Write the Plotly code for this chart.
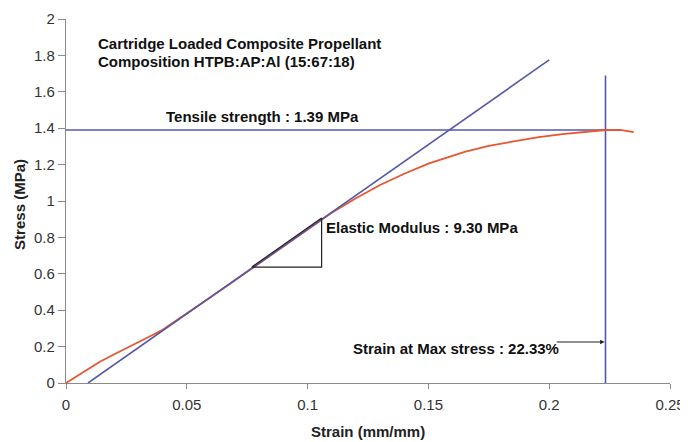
import plotly.graph_objects as go

# Measured stress-strain curve (orange)
strain = [0, 0.005, 0.01, 0.014, 0.02, 0.025, 0.03, 0.035, 0.04, 0.05, 0.06, 0.07, 0.08,
          0.09, 0.1, 0.11, 0.12, 0.13, 0.14, 0.15, 0.157, 0.165, 0.175, 0.185, 0.195,
          0.2055, 0.215, 0.2233, 0.23, 0.235]
stress = [0, 0.043, 0.083, 0.117, 0.158, 0.19, 0.225, 0.258, 0.292, 0.38, 0.472, 0.565, 0.658,
          0.75, 0.845, 0.935, 1.015, 1.088, 1.15, 1.205, 1.236, 1.27, 1.303, 1.325, 1.35,
          1.368, 1.38, 1.39, 1.389, 1.378]

# Elastic modulus tangent line (blue)
tangent_x = [0.0091, 0.2]
tangent_y = [0.0, 1.775]

# Tensile strength line
tensile_x = [0, 0.2296]
tensile_y = [1.39, 1.39]

# Strain at max stress line
maxstrain_x = [0.2233, 0.2233]
maxstrain_y = [0, 1.69]

# Modulus triangle
tri_x = [0.0769, 0.1058, 0.1058, 0.0769]
tri_y = [0.637, 0.907, 0.637, 0.637]

x_ticks = [0, 0.05, 0.1, 0.15, 0.2, 0.25]
x_ticktext = ["0", "0.05", "0.1", "0.15", "0.2", "0.25"]
y_ticks = [0, 0.2, 0.4, 0.6, 0.8, 1, 1.2, 1.4, 1.6, 1.8, 2]
y_ticktext = ["0", "0.2", "0.4", "0.6", "0.8", "1", "1.2", "1.4", "1.6", "1.8", "2"]

BLUE = "#5558a8"
ORANGE = "#e8552e"
FONT = "Liberation Sans, Arial, sans-serif"

fig = go.Figure()
fig.add_trace(go.Scatter(x=tensile_x, y=tensile_y, mode="lines",
                         line=dict(color=BLUE, width=1.6), hoverinfo="skip"))
fig.add_trace(go.Scatter(x=maxstrain_x, y=maxstrain_y, mode="lines",
                         line=dict(color=BLUE, width=1.6), hoverinfo="skip"))
fig.add_trace(go.Scatter(x=strain, y=stress, mode="lines",
                         line=dict(color=ORANGE, width=1.8), hoverinfo="skip"))
fig.add_trace(go.Scatter(x=tangent_x, y=tangent_y, mode="lines",
                         line=dict(color=BLUE, width=1.6), hoverinfo="skip"))
fig.add_trace(go.Scatter(x=tri_x, y=tri_y, mode="lines",
                         line=dict(color="#222222", width=1.2), hoverinfo="skip"))

ann_font = dict(family=FONT, size=15, color="#111111")
annotations = [
    dict(x=0.0125, y=1.868, text="<b>Cartridge Loaded Composite Propellant</b>", showarrow=False,
         xanchor="left", yanchor="middle", font=ann_font),
    dict(x=0.0125, y=1.764, text="<b>Composition HTPB:AP:Al (15:67:18)</b>", showarrow=False,
         xanchor="left", yanchor="middle", font=ann_font),
    dict(x=0.0405, y=1.462, text="<b>Tensile strength : 1.39 MPa</b>", showarrow=False,
         xanchor="left", yanchor="middle", font=ann_font),
    dict(x=0.1066, y=0.852, text="<b>Elastic Modulus : 9.30 MPa</b>", showarrow=False,
         xanchor="left", yanchor="middle", font=ann_font),
    dict(x=0.1178, y=0.192, text="<b>Strain at Max stress : 22.33%</b>", showarrow=False,
         xanchor="left", yanchor="middle", font=ann_font),
    dict(x=0.2229, y=0.225, ax=0.2025, ay=0.225, axref="x", ayref="y", xref="x", yref="y",
         text="", showarrow=True, arrowhead=2, arrowsize=0.8, arrowwidth=1.1, arrowcolor="#222222"),
    dict(x=0.5, y=-0.1346, xref="paper", yref="paper", text="<b>Strain (mm/mm)</b>", showarrow=False,
         xanchor="center", yanchor="middle", font=dict(family=FONT, size=15, color="#222222")),
    dict(x=-0.0762, y=0.492, xref="paper", yref="paper", text="<b>Stress (MPa)</b>", showarrow=False,
         textangle=-90, xanchor="center", yanchor="middle",
         font=dict(family=FONT, size=15, color="#222222")),
]

axis_common = dict(showgrid=False, zeroline=False, showline=True, linecolor="#8a8a8a", linewidth=1.2,
                   ticks="outside", tickcolor="#8a8a8a", tickwidth=1.2, automargin=False,
                   tickfont=dict(family=FONT, size=15, color="#333333"))

fig.update_layout(
    width=680, height=434,
    margin=dict(l=58, r=18, t=11, b=59, autoexpand=False),
    paper_bgcolor="white", plot_bgcolor="white",
    showlegend=False,
    xaxis=dict(range=[0, 0.25], tickvals=x_ticks, ticktext=x_ticktext, ticklen=5,
               ticklabelstandoff=3, **axis_common),
    yaxis=dict(range=[0, 2], tickvals=y_ticks, ticktext=y_ticktext, ticklen=7, **axis_common),
    annotations=annotations,
)

fig.write_html("out.html")
